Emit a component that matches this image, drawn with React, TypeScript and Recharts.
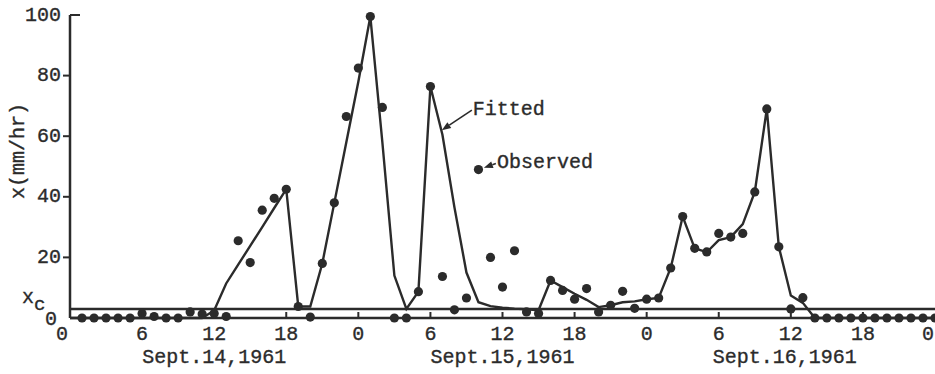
import React from "react";
import {
  ComposedChart,
  Line,
  XAxis,
  YAxis,
  ReferenceLine,
} from "recharts";

// hours since 0h Sept. 14, 1961
const hours = [
  0, 1, 2, 3, 4, 5, 6, 7, 8, 9, 10, 11, 12, 13, 14, 15, 16, 17, 18, 19, 20, 21, 22, 23, 24,
  25, 26, 27, 28, 29, 30, 31, 32, 33, 34, 35, 36, 37, 38, 39, 40, 41, 42, 43, 44, 45, 46, 47, 48,
  49, 50, 51, 52, 53, 54, 55, 56, 57, 58, 59, 60, 61, 62, 63, 64, 65, 66, 67, 68, 69, 70, 71, 72,
];

const fitted = [
  0, 0, 0, 0, 0, 0, 0, 0, 0, 0, 0, 0, 2.5, 11.4, 17.6, 23.8, 30, 36.3, 42.5, 3.8, 3.8, 18, 38, 58, 78,
  99.5, 58, 14, 3, 8.7, 76.4, 60.5, 36.5, 15, 5.2, 3.9, 3.4, 3.1, 2.9, 2.6, 12.4, 10.2, 8, 6, 3.6, 4.2, 5.2, 5.5, 6.2,
  6.6, 16.5, 33.5, 23, 21.7, 25.7, 26.7, 31, 41.6, 69, 23.5, 7.4, 5, 0, 0, 0, 0, 0, 0, 0, 0, 0, 0, 0,
];

const observed = [
  null, 0, 0, 0, 0, 0, 1.5, 0.5, 0, 0, 2, 1.3, 1.5, 0.5, 25.5, 18.3, 35.6, 39.5, 42.5, 3.8, 0.3, 18, 38, 66.5, 82.5,
  99.5, 69.5, 0, 0, 8.7, 76.4, 13.7, 2.7, 6.6, 49, 20, 10.2, 22.2, 2, 1.5, 12.4, 9.1, 6.2, 9.7, 2, 4.2, 8.8, 3.2, 6.2,
  6.6, 16.5, 33.5, 23, 21.8, 27.9, 26.7, 27.9, 41.6, 69, 23.5, 3, 6.7, 0, 0, 0, 0, 0, 0, 0, 0, 0, 0, 0,
];

const hourTicks = [0, 6, 12, 18, 24, 30, 36, 42, 48, 54, 60, 66, 72];
const hourTickLabels = ["0", "6", "12", "18", "0", "6", "12", "18", "0", "6", "12", "18", "0"];
const dateTicks = [12, 36, 59.5];
const dateLabels = ["Sept.14,1961", "Sept.15,1961", "Sept.16,1961"];

const xc = 3;
const rateTicks = [0, xc, 20, 40, 60, 80, 100];

const INK = "#2b2b2b";
const FONT = "'Liberation Mono', 'DejaVu Sans Mono', monospace";
const txt = { fontFamily: FONT, fontSize: 20, fill: INK, stroke: INK, strokeWidth: 0.35 };

const rows = hours.map((h, i) => ({ hour: h, fitted: fitted[i], observed: observed[i] }));

const HourTick = ({ x, y, payload }: any) => {
  const i = hourTicks.indexOf(payload.value);
  const first = payload.value === 0;
  const last = i === hourTicks.length - 1;
  return (
    <g>
      {!first && !last && <line x1={x} y1={y} x2={x} y2={y - 6} stroke={INK} strokeWidth={2} />}
      <text
        x={first ? x - 8 : last ? x - 1 : x}
        y={y + 16}
        textAnchor={last ? "end" : "middle"}
        dominantBaseline="central"
        {...txt}
      >
        {hourTickLabels[i]}
      </text>
    </g>
  );
};

const DateTick = ({ x, y, payload }: any) => {
  const i = dateTicks.indexOf(payload.value);
  return (
    <text x={x} y={y + 13} textAnchor="middle" dominantBaseline="central" {...txt}>
      {dateLabels[i]}
    </text>
  );
};

const RateTick = ({ x, y, payload }: any) => {
  const v = payload.value;
  if (v === xc) {
    return (
      <text x={x - 48} y={y - 11} dominantBaseline="central" {...txt}>
        x
        <tspan dy={7} fontSize={19}>c</tspan>
      </text>
    );
  }
  if (v === 0) {
    return (
      <text x={x - 13} y={y + 1} textAnchor="end" dominantBaseline="central" {...txt}>
        0
      </text>
    );
  }
  const top = v === 100;
  return (
    <g>
      <line x1={x} y1={y} x2={top ? x + 10 : x - 7} y2={y} stroke={INK} strokeWidth={2} />
      <text x={x - 9} y={y} textAnchor="end" dominantBaseline="central" {...txt}>
        {v}
      </text>
    </g>
  );
};

// arrow from a label to the thing it names
const arrowShape = (text: string) => (props: any) => {
  const { x1, y1, x2, y2 } = props;
  const a = Math.atan2(y2 - y1, x2 - x1);
  const L = 9;
  const W = 3.5;
  const bx = x2 - L * Math.cos(a);
  const by = y2 - L * Math.sin(a);
  const px = -Math.sin(a) * W;
  const py = Math.cos(a) * W;
  return (
    <g>
      <line x1={x1} y1={y1} x2={bx} y2={by} stroke={INK} strokeWidth={1.6} />
      <polygon points={`${x2},${y2} ${bx + px},${by + py} ${bx - px},${by - py}`} fill={INK} />
      <text x={x1 + 1} y={y1 - 1} dominantBaseline="central" {...txt}>
        {text}
      </text>
    </g>
  );
};

export default function App() {
  return (
    <div style={{ width: 935, height: 374, background: "#fff" }}>
      <style>{"body{margin:0}"}</style>
      <ComposedChart width={935} height={374} data={rows} margin={{ top: 15, right: 0, bottom: 0, left: 0 }}>
        <XAxis
          dataKey="hour"
          type="number"
          domain={[0, 72]}
          ticks={hourTicks}
          interval={0}
          height={26}
          tickSize={0}
          tickMargin={0}
          tickLine={false}
          axisLine={{ stroke: INK, strokeWidth: 2.5 }}
          tick={<HourTick />}
        />
        <XAxis
          xAxisId="date"
          type="number"
          domain={[0, 72]}
          ticks={dateTicks}
          interval={0}
          height={30}
          tickSize={0}
          tickMargin={0}
          tickLine={false}
          axisLine={false}
          tick={<DateTick />}
        />
        <YAxis
          type="number"
          domain={[0, 100]}
          ticks={rateTicks}
          interval={0}
          width={70}
          tickSize={0}
          tickMargin={0}
          tickLine={false}
          axisLine={{ stroke: INK, strokeWidth: 2.5 }}
          tick={<RateTick />}
          label={({ viewBox }: any) => (
            <text
              transform={`translate(${viewBox.x + 18},${viewBox.y + 136}) rotate(-90)`}
              textAnchor="middle"
              dominantBaseline="central"
              {...txt}
            >
              x(mm/hr)
            </text>
          )}
        />
        <ReferenceLine y={xc} stroke={INK} strokeWidth={2.5} />
        <ReferenceLine
          segment={[{ x: 33.45, y: 68.6 }, { x: 30.95, y: 62 }]}
          shape={arrowShape("Fitted")}
        />
        <ReferenceLine
          segment={[{ x: 35.45, y: 51 }, { x: 34.45, y: 49.6 }]}
          shape={arrowShape("Observed")}
        />
        <Line
          dataKey="fitted"
          type="linear"
          stroke={INK}
          strokeWidth={2.4}
          dot={false}
          activeDot={false}
          isAnimationActive={false}
        />
        <Line
          dataKey="observed"
          type="linear"
          stroke="none"
          dot={{ r: 4.6, fill: INK, stroke: "none" }}
          activeDot={false}
          isAnimationActive={false}
        />
      </ComposedChart>
    </div>
  );
}
